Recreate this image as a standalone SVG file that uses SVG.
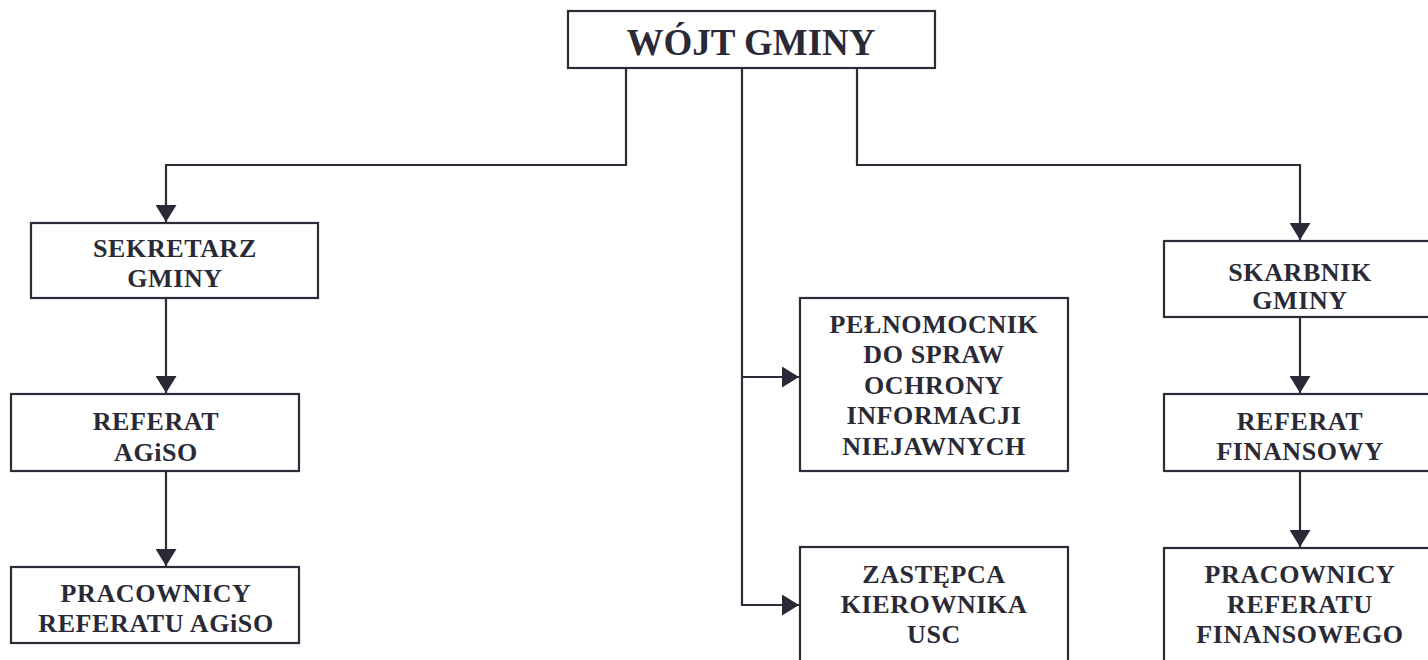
<svg xmlns="http://www.w3.org/2000/svg" width="1428" height="660" viewBox="0 0 1428 660">
<style>
.box{fill:#ffffff;stroke:#2c2c38;stroke-width:2.2}
.t{font-family:"Liberation Serif","Times New Roman",serif;font-weight:bold;font-size:26px;letter-spacing:0.6px;fill:#2a2a36;text-anchor:middle}
.big{font-size:37px;letter-spacing:0}
.c{fill:none;stroke:#2c2c38;stroke-width:2.2}
</style>
<defs>
<marker id="ah" markerUnits="userSpaceOnUse" markerWidth="17" markerHeight="21" viewBox="0 0 17 21" refX="17" refY="10.5" orient="auto">
<path d="M0,0 L17,10.5 L0,21 Z" fill="#2a2a36"/>
</marker>
</defs>
<rect width="1428" height="660" fill="#ffffff"/>
<g id="connectors">
<path class="c" d="M626,68 V165 H166 V222" marker-end="url(#ah)"/>
<path class="c" d="M857,68 V165 H1300 V240" marker-end="url(#ah)"/>
<path class="c" d="M742,68 V605 H799" marker-end="url(#ah)"/>
<path class="c" d="M742,377 H799" marker-end="url(#ah)"/>
<path class="c" d="M166,298 V393" marker-end="url(#ah)"/>
<path class="c" d="M166,471 V566" marker-end="url(#ah)"/>
<path class="c" d="M1300,317 V393" marker-end="url(#ah)"/>
<path class="c" d="M1300,471 V547" marker-end="url(#ah)"/>
</g>
<g id="wojt">
<rect class="box" x="568" y="11" width="367" height="57"/>
<text class="t big" x="751" y="55">WÓJT GMINY</text>
</g>
<g id="sekretarz">
<rect class="box" x="31" y="223" width="287" height="75"/>
<text class="t" x="175" y="257">SEKRETARZ</text>
<text class="t" x="175" y="287">GMINY</text>
</g>
<g id="referat-agiso">
<rect class="box" x="11" y="394" width="288" height="77"/>
<text class="t" x="156" y="430">REFERAT</text>
<text class="t" x="156" y="461">AGiSO</text>
</g>
<g id="pracownicy-agiso">
<rect class="box" x="11" y="567" width="288" height="76"/>
<text class="t" x="156" y="602">PRACOWNICY</text>
<text class="t" x="156" y="632">REFERATU AGiSO</text>
</g>
<g id="pelnomocnik">
<rect class="box" x="800" y="298" width="268" height="173"/>
<text class="t" x="934" y="333">PEŁNOMOCNIK</text>
<text class="t" x="934" y="363">DO SPRAW</text>
<text class="t" x="934" y="394">OCHRONY</text>
<text class="t" x="934" y="424">INFORMACJI</text>
<text class="t" x="934" y="455">NIEJAWNYCH</text>
</g>
<g id="zastepca">
<rect class="box" x="800" y="547" width="268" height="130"/>
<text class="t" x="934" y="583">ZASTĘPCA</text>
<text class="t" x="934" y="613">KIEROWNIKA</text>
<text class="t" x="934" y="643">USC</text>
</g>
<g id="skarbnik">
<rect class="box" x="1164" y="241" width="272" height="76"/>
<text class="t" x="1300" y="281">SKARBNIK</text>
<text class="t" x="1300" y="309">GMINY</text>
</g>
<g id="referat-finansowy">
<rect class="box" x="1164" y="394" width="272" height="77"/>
<text class="t" x="1300" y="430">REFERAT</text>
<text class="t" x="1300" y="460">FINANSOWY</text>
</g>
<g id="pracownicy-finansowego">
<rect class="box" x="1164" y="548" width="272" height="130"/>
<text class="t" x="1300" y="583">PRACOWNICY</text>
<text class="t" x="1300" y="613">REFERATU</text>
<text class="t" x="1300" y="643">FINANSOWEGO</text>
</g>
</svg>
